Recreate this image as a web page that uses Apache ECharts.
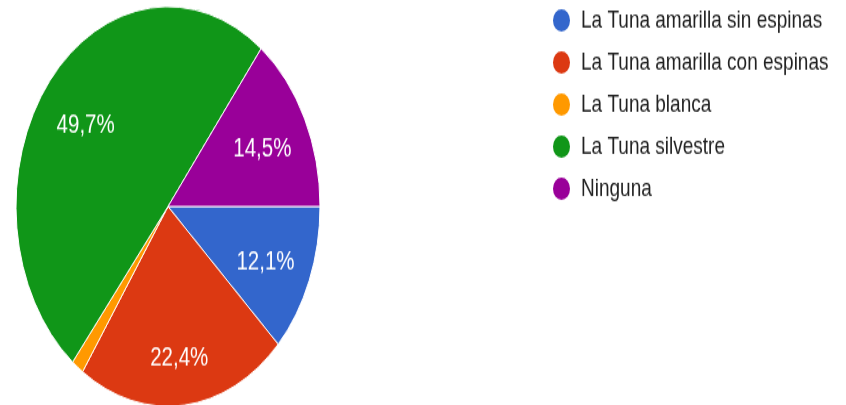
<!DOCTYPE html>
<html>
<head>
<meta charset="utf-8">
<script src="https://cdn.jsdelivr.net/npm/echarts@6/dist/echarts.min.js"></script>
<style>
  html, body { margin: 0; padding: 0; background: #fff; }
  #wrap { width: 846px; height: 405px; overflow: hidden; }
  /* the source picture is stretched vertically, so the chart is too */
  #chart { width: 846px; height: 308px; transform: scaleY(1.315); transform-origin: 0 0; }
</style>
</head>
<body>
<div id="wrap"><div id="chart"></div></div>
<script>
const categories = [
  'La Tuna amarilla sin espinas',
  'La Tuna amarilla con espinas',
  'La Tuna blanca',
  'La Tuna silvestre',
  'Ninguna'
]
const values = [12.1, 22.4, 1.3, 49.7, 14.5]
const palette = ['#3366cc', '#dc3912', '#ff9900', '#109618', '#990099']

const font = 'Arial, "Liberation Sans", sans-serif'
const pieData = categories.map((name, i) => ({ name: name, value: values[i] }))

const chart = echarts.init(document.getElementById('chart'))

chart.setOption({
  animation: false,
  color: palette,
  legend: {
    orient: 'vertical',
    left: 546,
    top: 0,
    icon: 'circle',
    itemWidth: 19,
    itemHeight: 19,
    itemGap: 11,
    data: categories,
    textStyle: {
      fontFamily: font,
      fontSize: 19,
      color: '#222',
      padding: [0, 0, 0, 5]
    }
  },
  series: [
    {
      name: 'main',
      type: 'pie',
      center: [168, 157],
      radius: [0, 152],
      startAngle: 0,
      clockwise: true,
      data: pieData,
      itemStyle: { borderColor: '#fff', borderWidth: 1 },
      label: { show: false },
      labelLine: { show: false },
      emphasis: { disabled: true }
    },
    {
      // invisible copy, only to place the percent labels farther out
      name: 'labels',
      type: 'pie',
      center: [168, 157],
      radius: [0, 204],
      startAngle: 0,
      clockwise: true,
      silent: true,
      z: 3,
      minShowLabelAngle: 10,
      data: pieData,
      itemStyle: { color: 'rgba(0,0,0,0)' },
      label: {
        show: true,
        position: 'inner',
        color: '#fff',
        fontFamily: font,
        fontSize: 20.5,
        formatter: p => p.value.toFixed(1).replace('.', ',') + '%'
      },
      // the bottom label sits a little farther out in the source
      labelLayout: p => ({ dy: p.dataIndex === 1 ? 11 : 3 }),
      labelLine: { show: false },
      emphasis: { disabled: true }
    }
  ]
})
</script>
</body>
</html>
